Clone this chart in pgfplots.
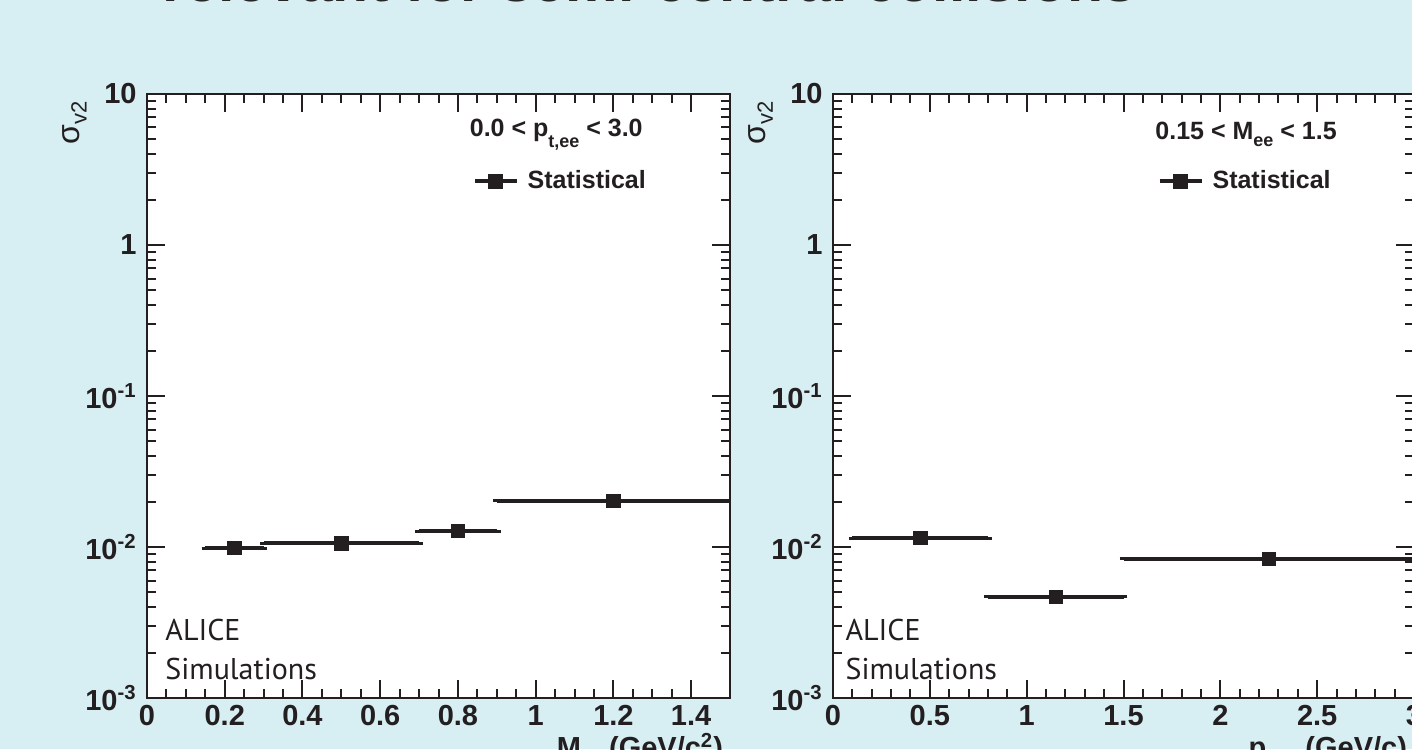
\documentclass[border=0pt]{standalone}
\usepackage{fontspec}
\setmainfont{Liberation Sans}
\newfontfamily\alicefont{PT Sans}
\newfontfamily\greekfont{Liberation Sans}
\usepackage{pgfplots}
\usepackage{pgfplotstable}
\pgfplotsset{compat=1.18}
\definecolor{bgblue}{RGB}{215,238,243}
\definecolor{ink}{RGB}{35,31,32}
\newcommand{\tickfont}{\fontsize{14.5}{16}\selectfont\bfseries}
\newcommand{\notefont}{\fontsize{12.5}{14}\selectfont\bfseries}
\pgfplotstableread{
x      y        exm    exp
0.225  0.00985  0.075  0.075
0.50   0.0106   0.20   0.20
0.80   0.01276  0.10   0.10
1.20   0.0202   0.30   0.30
}\massdata
\pgfplotstableread{
x      y        exm    exp
0.45   0.01147  0.35   0.35
1.15   0.00467  0.35   0.35
2.25   0.00833  0.75   0.75
}\ptdata
\begin{document}
\begin{tikzpicture}
\useasboundingbox (0,0) rectangle (706pt,-374.5pt);
\fill[bgblue] (0,0) rectangle (706pt,-374.5pt);
\clip (0,0) rectangle (706pt,-374.5pt);
\node[anchor=base west, font=\fontsize{29.5}{32}\selectfont\bfseries, text=black!85, inner sep=0pt] at (81pt,-0.8pt) {relevant for semi-central collisions};
% left panel
\begin{axis}[scale only axis, at={(73.5pt,-349pt)}, anchor=south west, width=291.5pt, height=302pt,
  ymode=log, ymin=1e-3, ymax=10,
  axis line style={ink, line width=1pt},
  every tick/.style={ink, line width=1pt},
  major tick length=9pt, minor tick length=4.5pt, tick align=inside,
  axis background/.style={fill=white},
  ytick={0.001,0.01,0.1,1,10},
  yticklabels={10\textsuperscript{-3},10\textsuperscript{-2},10\textsuperscript{-1},1,10},
  /pgf/number format/assume math mode=true,
  tick label style={font=\tickfont, text=ink},
  yticklabel style={inner sep=0pt, xshift=-5pt},
  xticklabel style={inner sep=0pt, yshift=-3.5pt},
  xmin=0, xmax=1.5, xtick={0,0.2,0.4,0.6,0.8,1,1.2,1.4}, minor x tick num=3,
  xlabel={M\raisebox{-3pt}{\fontsize{9}{9}\selectfont ee} (GeV/c\textsuperscript{2})},
  ylabel={σ\raisebox{-3.5pt}{\fontsize{11}{11}\selectfont v2}},
  x label style={at={(rel axis cs:1,-0.099)}, anchor=base east, font=\tickfont, text=ink},
  y label style={at={(rel axis cs:-0.124,1)}, anchor=east, rotate=0, font=\greekfont\fontsize{16}{18}\selectfont, text=ink},
  legend style={at={(rel axis cs:0.559,0.856)}, anchor=west, draw=none, fill=none, inner sep=0pt, outer sep=0pt, font=\notefont, nodes={inner sep=0pt, text=ink}, column sep=4.5pt},
  legend image code/.code={\draw[ink, line width=1.9pt] (0pt,0pt) -- (21pt,0pt); \fill[ink] (7pt,-3.5pt) rectangle (14pt,3.5pt);}]
\addplot[only marks, mark=square*, mark size=3.4pt, color=ink, mark options={fill=ink, draw=ink},
    error bars/.cd, x dir=both, x explicit,
    error bar style={line width=1.9pt, ink},
    error mark options={line width=1.5pt, mark size=1.9pt, ink}]
  table[x=x, y=y, x error minus=exm, x error plus=exp] {\massdata};
\addlegendentry{Statistical}
\node[anchor=base, font=\notefont, text=ink, inner sep=0pt] at (rel axis cs:0.702,0.930) {0.0 < p\raisebox{-5.5pt}{\fontsize{9}{9}\selectfont t,ee} < 3.0};
\node[anchor=base west, font=\alicefont\fontsize{15}{17}\selectfont, text=ink, inner sep=0pt] at (rel axis cs:0.031,0.096) {ALICE};
\node[anchor=base west, font=\alicefont\fontsize{15}{17}\selectfont, text=ink, inner sep=0pt] at (rel axis cs:0.031,0.031) {Simulations};
\end{axis}
% right panel
\begin{axis}[scale only axis, at={(416.5pt,-349pt)}, anchor=south west, width=290.5pt, height=302pt,
  ymode=log, ymin=1e-3, ymax=10,
  axis line style={ink, line width=1pt},
  every tick/.style={ink, line width=1pt},
  major tick length=9pt, minor tick length=4.5pt, tick align=inside,
  axis background/.style={fill=white},
  ytick={0.001,0.01,0.1,1,10},
  yticklabels={10\textsuperscript{-3},10\textsuperscript{-2},10\textsuperscript{-1},1,10},
  /pgf/number format/assume math mode=true,
  tick label style={font=\tickfont, text=ink},
  yticklabel style={inner sep=0pt, xshift=-5pt},
  xticklabel style={inner sep=0pt, yshift=-3.5pt},
  xmin=0, xmax=3, xtick={0,0.5,1,1.5,2,2.5,3}, minor x tick num=4,
  xlabel={p\raisebox{-3pt}{\fontsize{9}{9}\selectfont t,ee} (GeV/c)},
  ylabel={σ\raisebox{-3.5pt}{\fontsize{11}{11}\selectfont v2}},
  x label style={at={(rel axis cs:1,-0.099)}, anchor=base east, font=\tickfont, text=ink},
  y label style={at={(rel axis cs:-0.124,1)}, anchor=east, rotate=0, font=\greekfont\fontsize{16}{18}\selectfont, text=ink},
  legend style={at={(rel axis cs:0.559,0.856)}, anchor=west, draw=none, fill=none, inner sep=0pt, outer sep=0pt, font=\notefont, nodes={inner sep=0pt, text=ink}, column sep=4.5pt},
  legend image code/.code={\draw[ink, line width=1.9pt] (0pt,0pt) -- (21pt,0pt); \fill[ink] (7pt,-3.5pt) rectangle (14pt,3.5pt);}]
\addplot[only marks, mark=square*, mark size=3.4pt, color=ink, mark options={fill=ink, draw=ink},
    error bars/.cd, x dir=both, x explicit,
    error bar style={line width=1.9pt, ink},
    error mark options={line width=1.5pt, mark size=1.9pt, ink}]
  table[x=x, y=y, x error minus=exm, x error plus=exp] {\ptdata};
\addlegendentry{Statistical}
\node[anchor=base, font=\notefont, text=ink, inner sep=0pt] at (rel axis cs:0.711,0.925) {0.15 < M\raisebox{-3.5pt}{\fontsize{9}{9}\selectfont ee} < 1.5};
\node[anchor=base west, font=\alicefont\fontsize{15}{17}\selectfont, text=ink, inner sep=0pt] at (rel axis cs:0.021,0.096) {ALICE};
\node[anchor=base west, font=\alicefont\fontsize{15}{17}\selectfont, text=ink, inner sep=0pt] at (rel axis cs:0.021,0.031) {Simulations};
\end{axis}
\end{tikzpicture}
\end{document}
